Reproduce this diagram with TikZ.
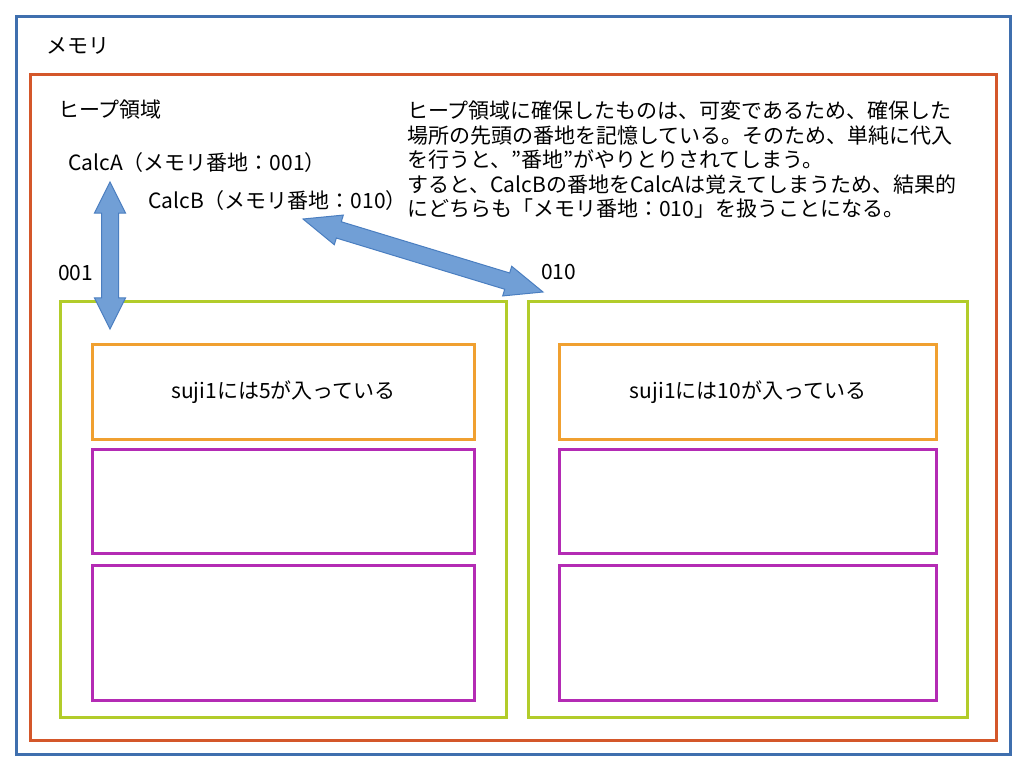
\documentclass[tikz,border=0pt]{standalone}
\usepackage{fontspec}
\setmainfont{Noto Sans CJK JP}
\usetikzlibrary{shapes.arrows,calc}
\definecolor{memblue}{HTML}{3F6FAE}
\definecolor{heapred}{HTML}{D4572A}
\definecolor{objgreen}{HTML}{B2CC2A}
\definecolor{fieldorange}{HTML}{F0A030}
\definecolor{fieldmag}{HTML}{B42BB4}
\definecolor{arrfill}{HTML}{719FD6}
\definecolor{arrline}{HTML}{4A7EC0}
\tikzset{
  box/.style={draw, line width=3pt, inner sep=0pt, anchor=north west},
  lbl/.style={inner sep=0pt, anchor=west, font=\fontsize{21}{24.5}\selectfont},
  dbl/.style={double arrow, fill=arrfill, draw=arrline, line width=1pt,
    inner xsep=0pt, inner ysep=8pt, minimum width=0pt,
    double arrow head extend=7pt}
}
\begin{document}
\begin{tikzpicture}[x=1pt,y=-1pt]
\useasboundingbox (0,0) rectangle (1024,768);
% frames
\node[box, draw=memblue, minimum width=994pt, minimum height=738pt] (mem) at (15,15) {};
\node[box, draw=heapred, minimum width=966pt, minimum height=666pt] (heap) at (29,73) {};
\node[box, draw=objgreen, minimum width=446pt, minimum height=416pt] (objA) at (59,300) {};
\node[box, draw=objgreen, minimum width=439pt, minimum height=416pt] (objB) at (527,300) {};
% fields A
\node[box, draw=fieldorange, minimum width=382pt, minimum height=95pt] (fA1) at (91,343) {};
\node[box, draw=fieldmag, minimum width=382pt, minimum height=104pt] (fA2) at (91,448) {};
\node[box, draw=fieldmag, minimum width=382pt, minimum height=135pt] (fA3) at (91,564) {};
% fields B
\node[box, draw=fieldorange, minimum width=377pt, minimum height=95pt] (fB1) at (558,343) {};
\node[box, draw=fieldmag, minimum width=377pt, minimum height=104pt] (fB2) at (558,448) {};
\node[box, draw=fieldmag, minimum width=377pt, minimum height=135pt] (fB3) at (558,564) {};
% texts
\node[lbl] (tmem) at (46,46) {メモリ};
\node[lbl] (theap) at (58,110) {ヒープ領域};
\node[lbl] (calcA) at (68,163) {CalcA（メモリ番地：001）};
\node[lbl] (calcB) at (148,201) {CalcB（メモリ番地：010）};
\node[lbl] (a001) at (58,273) {001};
\node[lbl] (a010) at (541,272) {010};
\node[lbl, anchor=center] (sA) at (fA1.center) {suji1には5が入っている};
\node[lbl, anchor=center] (sB) at (fB1.center) {suji1には10が入っている};
\node[lbl, anchor=north west, align=left] (note) at (407,101)
 {ヒープ領域に確保したものは、可変であるため、確保した\\
  場所の先頭の番地を記憶している。そのため、単純に代入\\
  を行うと、”番地”がやりとりされてしまう。\\
  すると、CalcBの番地をCalcAは覚えてしまうため、結果的\\
  にどちらも「メモリ番地：010」を扱うことになる。};
% arrow end points
\coordinate (vA) at (110,182);
\coordinate (vB) at (110,329);
\coordinate (dA) at (303,219);
\coordinate (dB) at (543,292);
\path let \p1=($(vB)-(vA)$), \n1={atan2(\y1,\x1)}, \n2={veclen(\x1,\y1)} in
  node[dbl, double arrow tip angle=53, rotate=\n1, minimum height=\n2] (arrA) at ($(vA)!0.5!(vB)$) {};
\path let \p1=($(dB)-(dA)$), \n1={atan2(\y1,\x1)}, \n2={veclen(\x1,\y1)} in
  node[dbl, double arrow tip angle=45, rotate=\n1, minimum height=\n2] (arrB) at ($(dA)!0.5!(dB)$) {};
\end{tikzpicture}
\end{document}
